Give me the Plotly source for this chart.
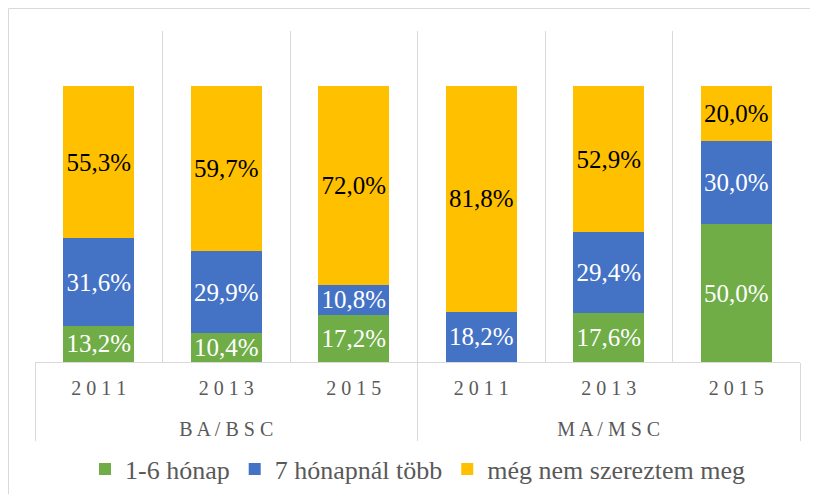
import plotly.graph_objects as go

groups = ["B A / B S C"] * 3 + ["M A / M S C"] * 3
year_labels = ["2 0 1 1", "2 0 1 3", "2 0 1 5"] * 2
series_names = ["1-6 hónap", "7 hónapnál több", "még nem szereztem meg"]
v_1_6 = [13.2, 10.4, 17.2, 0.0, 17.6, 50.0]
v_7plus = [31.6, 29.9, 10.8, 18.2, 29.4, 30.0]
v_nem = [55.3, 59.7, 72.0, 81.8, 52.9, 20.0]
colors = ["#70AD47", "#4472C4", "#FFC000"]
text_colors = ["white", "white", "black"]

FONT = "Liberation Serif"

# invisible tall padding so the group row sits lower (like the original)
PAD = "<span style='font-size:43px'>\u00a0</span>"
years = [PAD + y + PAD for y in year_labels]


def fmt(v):
    return "" if v == 0 else f"{v:.1f}%".replace(".", ",")


fig = go.Figure()
for name, vals, col, tcol in zip(series_names, [v_1_6, v_7plus, v_nem], colors, text_colors):
    fig.add_trace(go.Bar(
        x=[groups, years], y=[v / 100 for v in vals], name=name,
        marker=dict(color=col, line=dict(width=0)),
        text=[fmt(v) for v in vals], textposition="inside",
        insidetextanchor="middle", textangle=0, constraintext="none",
        textfont=dict(family=FONT, size=25, color=tcol),
        hoverinfo="skip",
    ))

# figure is placed 8px in from the page corner (body margin)
W, H = 810, 486
L, R, T, B = 27, 18, 23, 132
pw, ph = W - L - R, H - T - B

fig.update_layout(
    barmode="stack", bargap=0.443,
    width=W, height=H,
    margin=dict(l=L, r=R, t=T, b=B, autoexpand=False),
    paper_bgcolor="white", plot_bgcolor="white",
    uniformtext=dict(minsize=25, mode="show"),
    showlegend=True,
    legend=dict(orientation="h", x=0.5, xanchor="center",
                y=(ph - (461 - T)) / ph, yanchor="middle",
                font=dict(family=FONT, size=26, color="#595959"),
                itemwidth=30, traceorder="normal"),
    xaxis=dict(type="multicategory", tickson="boundaries", showgrid=True,
               gridcolor="#d9d9d9", gridwidth=1, showline=True, linecolor="#d9d9d9",
               linewidth=1, ticks="", ticklabelstandoff=8,
               tickangle=0,
               showdividers=True, dividercolor="#d9d9d9", dividerwidth=1,
               tickfont=dict(family=FONT, size=20, color="#595959"), zeroline=False),
    yaxis=dict(range=[0, 1.2], visible=False, showgrid=False, zeroline=False),
    shapes=[dict(type="rect", xref="paper", yref="paper",
                 x0=(0.5 - L) / pw, x1=(W + 20 - L) / pw,
                 y0=(ph - (H + 20 - T)) / ph, y1=(ph - (0.5 - T)) / ph,
                 line=dict(color="#d9d9d9", width=1), fillcolor="rgba(0,0,0,0)", layer="below")],
)

fig.write_html("out.html")
